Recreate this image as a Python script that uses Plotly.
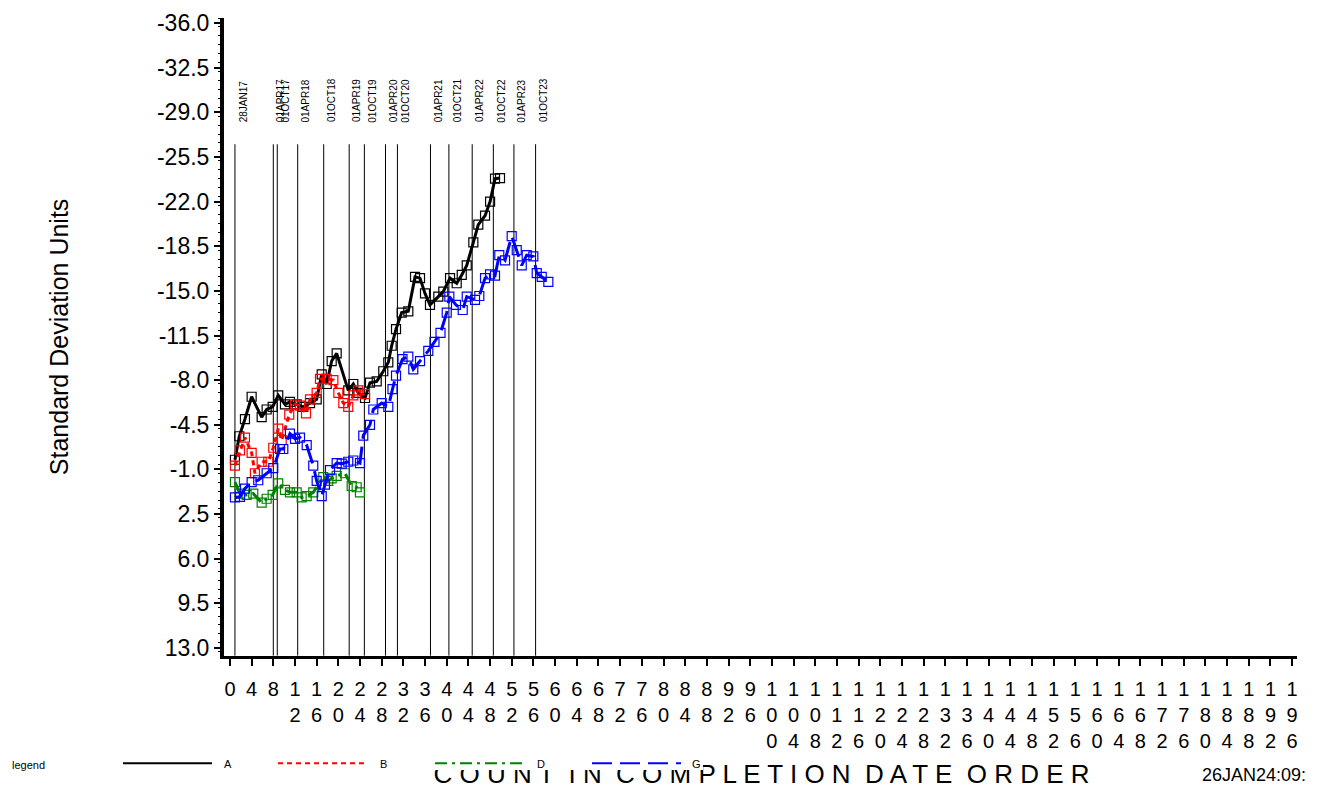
import plotly.graph_objects as go

# ---------------- data ----------------
a_x = [0.92, 1.72, 2.77, 4.0, 5.85, 6.77, 7.88, 8.91, 10.15, 11.07, 12.31, 13.53, 14.77, 16.0,
       16.93, 17.85, 18.77, 19.69, 21.83, 22.76, 23.68, 24.92, 25.84, 27.08, 28.29, 29.22,
       29.84, 30.64, 31.69, 32.91, 34.15, 35.07, 35.99, 36.91, 38.45, 39.37, 40.61, 41.84,
       42.77, 43.69, 44.91, 45.83, 47.07, 48.0, 48.91, 49.83]
a_y = [-1.76, -3.6, -4.95, -6.7, -5.1, -5.7, -5.9, -6.8, -6.1, -6.3, -6.1, -5.9, -6.2, -6.5,
       -8.45, -7.7, -9.5, -10.1, -7.2, -7.7, -7.0, -6.6, -7.8, -7.9, -8.7, -9.4,
       -10.7, -12.0, -13.3, -13.4, -16.1, -16.0, -14.8, -13.9, -14.55, -14.95, -16.0, -15.6,
       -16.25, -17.0, -18.8, -20.2, -20.9, -22.0, -23.8, -23.85]

b_x = [0.92, 1.85, 2.77, 4.0, 4.61, 5.85, 7.07, 7.99, 8.91, 9.54, 10.94, 12.0, 12.92, 14.03,
       14.77, 16.0, 16.61, 17.85, 19.08, 20.0, 20.92, 21.83, 22.76, 23.68, 24.92]
b_y = [-1.3, -2.5, -3.5, -2.3, -0.7, -1.6, -1.6, -2.7, -4.2, -3.3, -5.3, -6.1, -6.0, -5.4,
       -6.5, -7.0, -8.1, -8.1, -8.0, -7.0, -6.2, -5.9, -6.8, -7.2, -6.9]

d_x = [0.92, 1.85, 3.08, 4.3, 5.85, 6.77, 7.88, 8.91, 10.15, 11.07, 12.31, 13.23, 14.15, 15.37,
       17.22, 18.14, 18.77, 19.69, 21.23, 22.46, 23.38, 23.99]
d_y = [0.0, 0.9, 1.0, 0.9, 1.6, 1.3, 1.0, 0.1, 0.6, 0.8, 0.8, 1.2, 1.1, 0.8,
       -0.4, -0.1, -0.3, -0.5, -0.7, 0.3, 0.4, 0.8]

g_x = [0.92, 1.85, 2.77, 4.0, 5.22, 6.77, 7.99, 9.23, 9.84, 11.07, 12.0, 12.92, 14.16, 15.37,
       16.0, 16.93, 17.53, 18.46, 19.69, 20.62, 21.83, 22.76, 23.99, 24.6, 25.84, 26.45, 28.0,
       29.22, 29.99, 30.64, 31.84, 32.91, 33.83, 35.07, 36.6, 37.74, 38.85, 40.0, 40.48, 41.71,
       42.95, 43.69, 45.22, 46.01, 47.07, 47.99, 48.91, 49.7, 50.76, 51.99, 52.92, 53.84,
       54.76, 55.98, 56.61, 57.53, 58.75]
g_y = [1.2, 1.15, 0.5, 0.0, -0.15, -0.7, -1.1, -2.6, -2.6, -3.8, -3.4, -3.5, -2.9, -1.3,
       -0.1, 1.1, 0.2, -0.95, -1.5, -1.45, -1.6, -1.7, -1.5, -3.65, -4.5, -5.7, -6.2,
       -5.9, -7.3, -8.35, -9.65, -9.85, -8.85, -9.5, -10.3, -11.0, -11.7, -13.3, -14.55, -13.9,
       -13.5, -14.55, -14.3, -14.6, -16.0, -16.3, -16.2, -17.8, -17.4, -19.3, -18.2, -17.0,
       -17.8, -17.7, -16.4, -16.1, -15.7]

ref_x = [0.92, 8.0, 8.73, 12.5, 17.3, 22.0, 24.8, 28.7, 30.9, 37.0, 40.4, 44.7, 48.6, 52.4, 56.4]
ref_labels = ["28JAN17", "01APR17", "01OCT17", "01APR18", "01OCT18", "01APR19", "01OCT19",
              "01APR20", "01OCT20", "01APR21", "01OCT21", "01APR22", "01OCT22", "01APR23",
              "01OCT23"]
ref_top = -26.5
ref_label_y = -28.06

x_tickvals = list(range(0, 197, 4))
x_ticktext = ["<br>".join(str(v)) for v in x_tickvals]
y_tickvals = [-36.0 + 3.5 * i for i in range(15)]
y_ticktext = [f"{v:.1f}" for v in y_tickvals]

series_names = ["A", "B", "D", "G"]
series_colors = ["#000000", "#ff0000", "#008000", "#0000ff"]
series_dash = ["solid", "5px,4px", "12px,5px,3px,5px", "20px,8px"]

x_title = "COUNT IN COMPLETION DATE ORDER"
y_title = "Standard Deviation Units"
stamp = "26JAN24:09:"

# ---------------- layout helpers (page pixel -> paper) ----------------
OFF = 8                      # page body margin
W, H = 1321 - OFF, 792 - OFF
PL, PR, PT, PB = 224, 1297, 18, 660   # main plot box in page pixels
L = PL - OFF
R = W - (PR - OFF)
T = PT - OFF
B = 0
PAPER_W = W - L - R
PAPER_BOTTOM = H - B          # figure y of paper bottom
PAPER_H = PAPER_BOTTOM - T


def px_x(p):
    return (p - OFF - L) / PAPER_W


def px_y(p):
    return (PAPER_BOTTOM - (p - OFF)) / PAPER_H


FONT = "Liberation Sans, Arial, sans-serif"

fig = go.Figure()

xs = [a_x, b_x, d_x, g_x]
ys = [a_y, b_y, d_y, g_y]
for name, x, y, c, dsh in zip(series_names, xs, ys, series_colors, series_dash):
    fig.add_trace(go.Scatter(
        x=x, y=y, name=name, mode="lines+markers",
        line=dict(color=c, width=3, dash=dsh),
        marker=dict(symbol="square-open", size=9, color=c, line=dict(width=1.2, color=c)),
        showlegend=False,
    ))

# axis title drawn as text in a hidden strip so the legend band can overlap it
spaced = "  ".join(" ".join(w) for w in x_title.split(" "))
fig.add_trace(go.Scatter(
    x=[98.1], y=[0.3], mode="text", text=[spaced], xaxis="x2", yaxis="y2",
    textfont=dict(family="Liberation Sans Narrow, Liberation Sans, Arial", size=26, color="black"),
    cliponaxis=False, hoverinfo="skip", showlegend=False,
))

shapes = []
for xv in ref_x:
    shapes.append(dict(type="line", xref="x", yref="y", x0=xv, x1=xv, y0=ref_top, y1=13.62,
                       line=dict(color="black", width=1), layer="below"))

# legend band (partly hides the axis title, as in the original output)
shapes.append(dict(type="rect", xref="paper", yref="paper", x0=px_x(0), x1=px_x(703),
                   y0=px_y(775), y1=px_y(750), fillcolor="white", line=dict(width=0),
                   layer="above"))
leg_starts = [123, 278, 435, 592]
for s, c, dsh in zip(leg_starts, series_colors, series_dash):
    shapes.append(dict(type="line", xref="paper", yref="paper", x0=px_x(s), x1=px_x(s + 89),
                       y0=px_y(768), y1=px_y(768), line=dict(color=c, width=2, dash=dsh),
                       layer="above"))

annotations = []
for xv, lab in zip(ref_x, ref_labels):
    annotations.append(dict(x=xv, y=ref_label_y, xref="x", yref="y", text=lab, textangle=-90,
                            showarrow=False, xanchor="center", yanchor="bottom", xshift=8,
                            font=dict(family=FONT, size=10, color="black")))
annotations.append(dict(x=px_x(10), y=px_y(770), xref="paper", yref="paper", text="legend",
                        showarrow=False, xanchor="left", yanchor="middle",
                        font=dict(family=FONT, size=11, color="black")))
for s, n in zip([222, 378, 535, 690], series_names):
    annotations.append(dict(x=px_x(s), y=px_y(769), xref="paper", yref="paper", text=n,
                            showarrow=False, xanchor="left", yanchor="middle",
                            font=dict(family=FONT, size=11, color="black")))
annotations.append(dict(x=px_x(1200), y=px_y(780), xref="paper", yref="paper", text=stamp,
                        showarrow=False, xanchor="left", yanchor="middle",
                        font=dict(family=FONT, size=18, color="black")))

fig.update_layout(
    width=W, height=H,
    margin=dict(l=L, r=R, t=T, b=B, pad=0),
    paper_bgcolor="white", plot_bgcolor="white",
    showlegend=False,
    shapes=shapes, annotations=annotations,
    font=dict(family=FONT, color="black"),
    xaxis=dict(range=[-1.1, 196.9], tickmode="array", tickvals=x_tickvals, ticktext=x_ticktext,
               showgrid=False, zeroline=False, showline=True, linecolor="black", linewidth=3,
               ticks="outside", ticklen=7, tickwidth=1.5, tickcolor="black",
               tickfont=dict(family=FONT, size=20, color="black"), ticklabelstandoff=6),
    yaxis=dict(range=[13.62, -36.4], domain=[px_y(660), 1.0],
               tickmode="array", tickvals=y_tickvals, ticktext=y_ticktext,
               showgrid=False, zeroline=False, showline=True, linecolor="black", linewidth=4,
               ticks="outside", ticklen=6, tickwidth=1.5, tickcolor="black",
               minor=dict(dtick=0.7, ticks="outside", ticklen=2, tickcolor="black", tickwidth=1),
               tickfont=dict(family=FONT, size=23, color="black"),
               title=dict(text=y_title, font=dict(family=FONT, size=25, color="black"), standoff=82)),
    xaxis2=dict(range=[-1.1, 196.9], anchor="y2", visible=False, domain=[0, 1]),
    yaxis2=dict(range=[0, 1], anchor="x2", visible=False, domain=[px_y(790), px_y(760)]),
)

fig.write_html("out.html")
